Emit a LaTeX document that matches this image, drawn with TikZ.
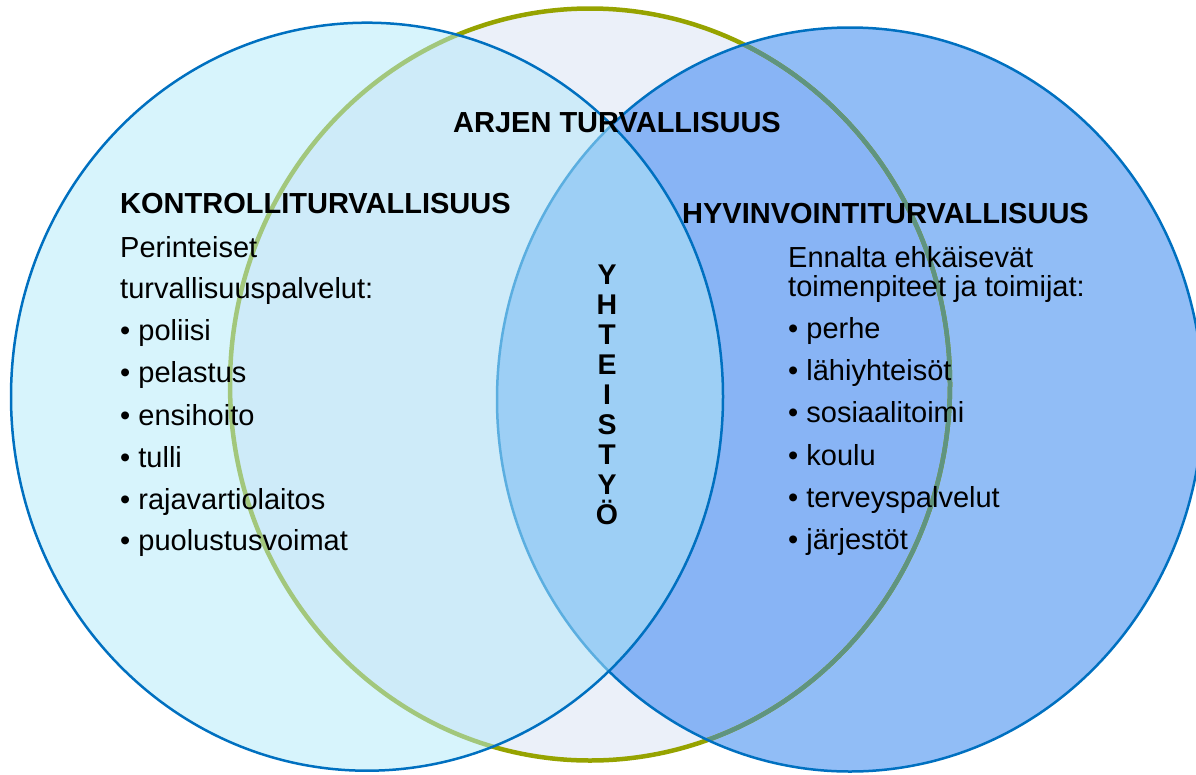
\documentclass[tikz,border=0pt]{standalone}
\usepackage{fontspec}
\setmainfont{Liberation Sans}
\definecolor{midfill}{HTML}{EBF0F9}
\definecolor{leftfill}{HTML}{D7F4FC}
\definecolor{leftmid}{HTML}{CEEBF9}
\definecolor{rightfill}{HTML}{91BDF6}
\definecolor{rightmid}{HTML}{88B4F5}
\definecolor{lensfill}{HTML}{9DCFF5}
\definecolor{oliveline}{HTML}{96A300}
\definecolor{greenleft}{HTML}{A2C77C}
\definecolor{greenright}{HTML}{5F9480}
\definecolor{blueline}{HTML}{0070C0}
\definecolor{blueunder}{HTML}{5BAEE0}
\newcommand{\Lpath}{(367,396.7) ellipse [x radius=356pt, y radius=374pt]}
\newcommand{\Mpath}{(590,384.5) ellipse [x radius=360pt, y radius=376pt]}
\newcommand{\Rpath}{(850,399.5) ellipse [x radius=353pt, y radius=372pt]}
\begin{document}
\begin{tikzpicture}[x=1pt,y=-1pt,
  headtext/.style={anchor=base west,inner sep=0pt,font=\bfseries\fontsize{29}{34}\selectfont},
  bodytext/.style={anchor=base west,inner sep=0pt,font=\fontsize{29}{34}\selectfont},
  vletter/.style={anchor=base,inner sep=0pt,font=\bfseries\fontsize{28.5}{30}\selectfont},
  blueborder/.style={draw=blueline,line width=2.5pt},
  oliveborder/.style={line width=4.5pt}]
\useasboundingbox (0,0) rectangle (1196,774);
\clip (0,0) rectangle (1196,774);
% middle circle
\fill[midfill] \Mpath;
% right circle
\fill[rightfill] \Rpath;
\begin{scope}\clip \Mpath; \fill[rightmid] \Rpath; \end{scope}
\draw[oliveborder,draw=oliveline] \Mpath;
\begin{scope}\clip \Rpath; \draw[oliveborder,draw=greenright] \Mpath; \end{scope}
\draw[blueborder] \Rpath;
% left circle
\fill[leftfill] \Lpath;
\begin{scope}\clip \Mpath; \fill[leftmid] \Lpath; \end{scope}
\begin{scope}\clip \Rpath; \fill[lensfill] \Lpath; \end{scope}
\begin{scope}\clip \Lpath;
  \draw[oliveborder,draw=greenleft] \Mpath;
  \draw[line width=2.5pt,draw=blueunder] \Rpath;
\end{scope}
\draw[blueborder] \Lpath;
% texts
\node[headtext] (arjen) at (453,132) {ARJEN TURVALLISUUS};
\node[headtext] (kontrolli) at (120,213) {KONTROLLITURVALLISUUS};
\node[bodytext] (perint) at (120,257) {Perinteiset};
\node[bodytext] (turvp) at (120,298) {turvallisuuspalvelut:};
\node[bodytext] (l1) at (120,340) {• poliisi};
\node[bodytext] (l2) at (120,382) {• pelastus};
\node[bodytext] (l3) at (120,425) {• ensihoito};
\node[bodytext] (l4) at (120,467) {• tulli};
\node[bodytext] (l5) at (120,509) {• rajavartiolaitos};
\node[bodytext] (l6) at (120,550) {• puolustusvoimat};
\node[headtext] (hyvin) at (682,223) {HYVINVOINTITURVALLISUUS};
\node[bodytext] (ennalta) at (788,267) {Ennalta ehkäisevät};
\node[bodytext] (toimen) at (788,296) {toimenpiteet ja toimijat:};
\node[bodytext] (r1) at (788,338) {• perhe};
\node[bodytext] (r2) at (788,380) {• lähiyhteisöt};
\node[bodytext] (r3) at (788,422) {• sosiaalitoimi};
\node[bodytext] (r4) at (788,465) {• koulu};
\node[bodytext] (r5) at (788,507) {• terveyspalvelut};
\node[bodytext] (r6) at (788,549) {• järjestöt};
\foreach \ch [count=\i from 0] in {Y,H,T,E,I,S,T,Y,Ö}
  \node[vletter] (yh\i) at (607,{284+30*\i}) {\ch};
\end{tikzpicture}
\end{document}
